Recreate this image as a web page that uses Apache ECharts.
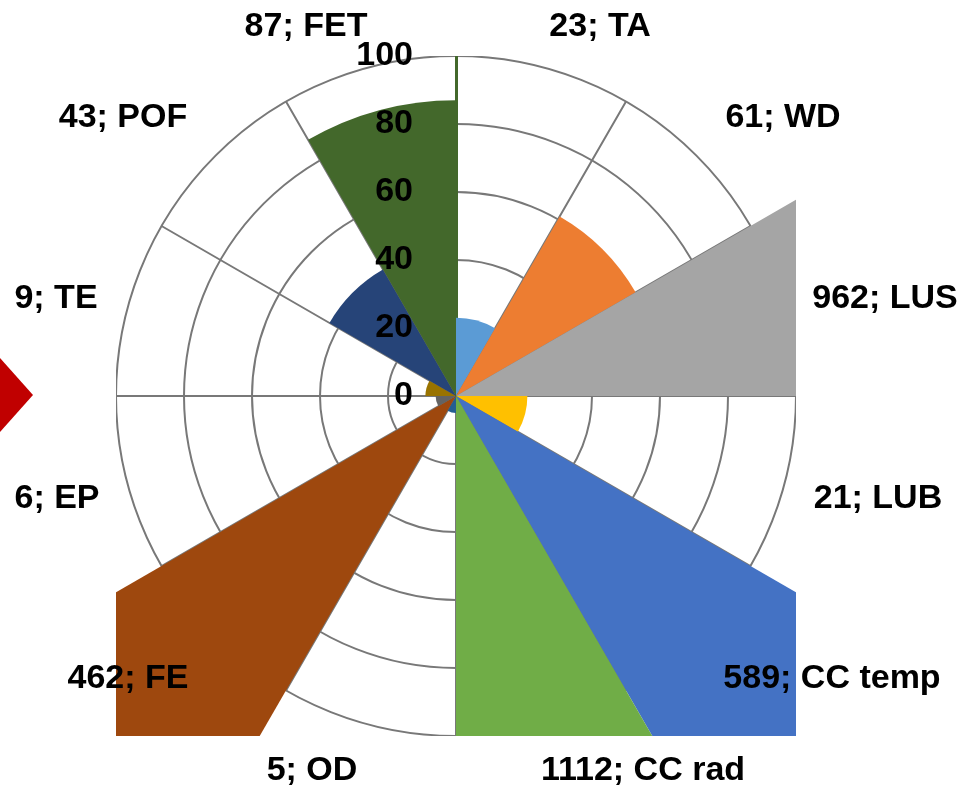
<!DOCTYPE html>
<html>
<head>
<meta charset="utf-8">
<script src="https://cdn.jsdelivr.net/npm/echarts@6/dist/echarts.min.js"></script>
<style>
  html, body { margin: 0; padding: 0; background: #fff; }
  #chart { width: 970px; height: 790px; }
</style>
</head>
<body>
<div id="chart"></div>
<script>
// data
const categories = ['TA', 'WD', 'LUS', 'LUB', 'CC temp', 'CC rad', 'OD', 'FE', 'EP', 'TE', 'POF', 'FET']
const values = [23, 61, 962, 21, 589, 1112, 5, 462, 6, 9, 43, 87]
const radiusMax = 100
const radiusStep = 20

// styling / layout
const palette = ['#5B9BD5', '#ED7D31', '#A5A5A5', '#FFC000', '#4472C4', '#70AD47',
  '#255E91', '#9E480E', '#636363', '#997300', '#264478', '#43682B']
const labelPos = [[600, 27], [783, 118], [885, 299], [878, 499], [832, 679], [643, 771],
  [312, 771], [128, 679], [57, 499], [56, 299], [123, 118], [306, 27]]
const center = [456, 396]
const R = 340
const font = 'Liberation Sans, Arial, sans-serif'
const gridColor = '#787878'

const chart = echarts.init(document.getElementById('chart'))

// white masks: Excel clips the bars to the square plot area
const box = { l: center[0] - R, r: center[0] + R, t: center[1] - R, b: center[1] + R }
const masks = [
  [0, 0, 970, box.t],
  [0, box.b, 970, 790 - box.b],
  [0, 0, box.l, 790],
  [box.r, 0, 970 - box.r, 790]
].map(([x, y, w, h]) => ({
  type: 'rect', z: 50, silent: true,
  shape: { x, y, width: w, height: h },
  style: { fill: '#fff' }
}))

const labels = categories.map((c, i) => ({
  type: 'text', z: 70, silent: true,
  x: labelPos[i][0], y: labelPos[i][1],
  style: {
    text: values[i] + '; ' + c,
    font: 'bold 34px ' + font,
    fill: '#000',
    align: 'center',
    verticalAlign: 'middle'
  }
}))

const option = {
  animation: false,
  polar: [
    { center, radius: R },
    { center, radius: R }
  ],
  angleAxis: [
    {
      polarIndex: 0, type: 'category', data: categories, startAngle: 90,
      boundaryGap: true,
      axisLine: { show: false }, axisTick: { show: false }, axisLabel: { show: false },
      splitLine: { show: true, lineStyle: { color: gridColor, width: 2 } }
    },
    {
      polarIndex: 1, type: 'category', data: categories, startAngle: 90,
      axisLine: { show: false }, axisTick: { show: false }, axisLabel: { show: false },
      splitLine: { show: false }
    }
  ],
  radiusAxis: [
    {
      polarIndex: 0, min: 0, max: radiusMax, interval: radiusStep, z: 1,
      axisLine: { show: true, lineStyle: { color: '#43682B', width: 3 } },
      axisTick: { show: false }, axisLabel: { show: false },
      splitLine: { show: true, lineStyle: { color: gridColor, width: 2 } }
    },
    {
      polarIndex: 1, min: 0, max: radiusMax, interval: radiusStep, z: 60,
      axisLine: { show: false }, axisTick: { show: false },
      splitLine: { show: false },
      axisLabel: {
        show: true, margin: 43, color: '#000',
        fontFamily: font, fontWeight: 'bold', fontSize: 34,
        padding: [4, 0, 0, 0]
      }
    }
  ],
  series: [{
    type: 'bar',
    coordinateSystem: 'polar',
    polarIndex: 0,
    barCategoryGap: '0%',
    clip: false,
    z: 2,
    data: values.map((v, i) => ({ value: v, itemStyle: { color: palette[i] } }))
  }],
  graphic: [
    ...masks,
    {
      // red arrow from the neighbouring slide element
      type: 'polygon', z: 70, silent: true,
      shape: { points: [[-40, 395], [0, 358], [33, 395], [0, 432]] },
      style: { fill: '#C00000' }
    },
    ...labels
  ]
}

chart.setOption(option)
window.addEventListener('resize', () => chart.resize())
</script>
</body>
</html>
